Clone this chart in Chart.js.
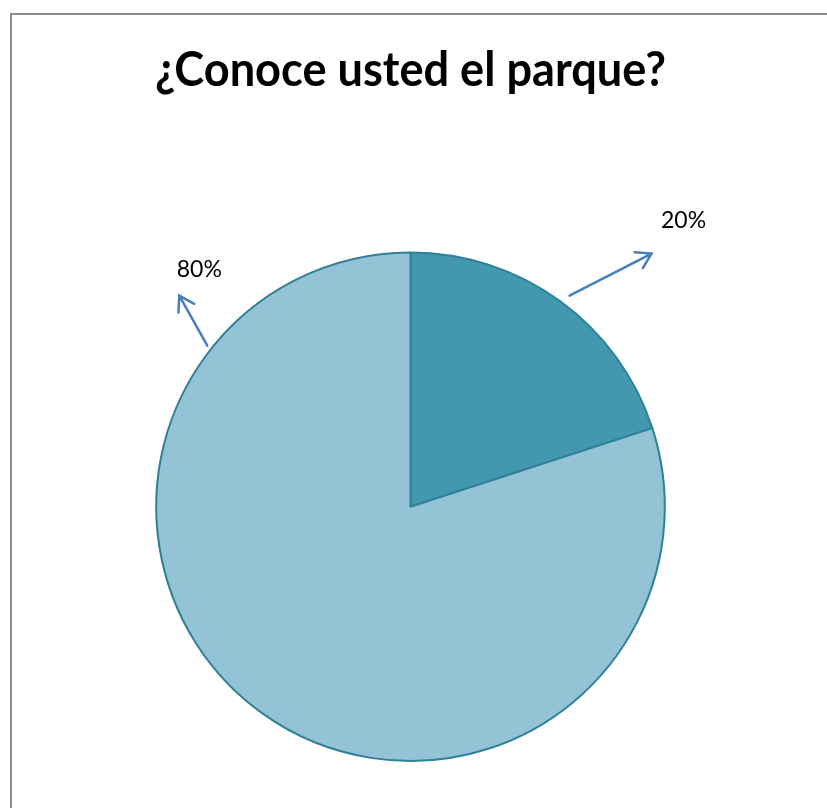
<!DOCTYPE html>
<html>
<head>
<meta charset="utf-8">
<script src="https://cdn.jsdelivr.net/npm/chart.js@4/dist/chart.umd.min.js"></script>
<style>
  html, body { margin: 0; padding: 0; background: #ffffff; }
  #wrap { position: relative; width: 827px; height: 808px; overflow: hidden; }
  #frame { position: absolute; left: 10px; top: 13px; width: 900px; height: 900px;
           border-left: 2px solid #8c8c8c; border-top: 2px solid #8c8c8c; box-sizing: border-box; }
  canvas { position: absolute; left: 0; top: 0; }
</style>
</head>
<body>
<div id="wrap">
  <div id="frame"></div>
  <canvas id="c" width="827" height="808"></canvas>
</div>
<script>
const titleText = '¿Conoce usted el parque?';
const categories = ['Sí', 'No'];
const values = [20, 80];
const sliceColors = ['#4398B0', '#93C3D5'];

const labelArrows = {
  id: 'labelArrows',
  afterDatasetsDraw(chart, args, opts) {
    const ctx = chart.ctx;
    const meta = chart.getDatasetMeta(0);
    const data = chart.data.datasets[0].data;
    const total = data.reduce((a, b) => a + b, 0);
    meta.data.forEach((arc, i) => {
      const p = opts.placements[i];
      const cx = arc.x, cy = arc.y, r = arc.outerRadius;
      const a = p.angle * Math.PI / 180;
      const sx = cx + (r + p.gap) * Math.cos(a);
      const sy = cy + (r + p.gap) * Math.sin(a);
      const ex = sx + p.dx, ey = sy + p.dy;
      ctx.save();
      ctx.strokeStyle = opts.arrowColor;
      ctx.lineWidth = 2.5;
      ctx.lineCap = 'round';
      ctx.beginPath();
      ctx.moveTo(sx, sy);
      ctx.lineTo(ex, ey);
      const ang = Math.atan2(ey - sy, ex - sx);
      const hl = 17, ha = 32 * Math.PI / 180;
      ctx.moveTo(ex - hl * Math.cos(ang - ha), ey - hl * Math.sin(ang - ha));
      ctx.lineTo(ex, ey);
      ctx.lineTo(ex - hl * Math.cos(ang + ha), ey - hl * Math.sin(ang + ha));
      ctx.stroke();
      ctx.fillStyle = '#000000';
      ctx.font = '23px Lato, "Open Sans", sans-serif';
      ctx.textAlign = 'center';
      ctx.textBaseline = 'middle';
      const pct = Math.round(data[i] / total * 100) + '%';
      ctx.fillText(pct, ex + p.tx, ey + p.ty);
      ctx.restore();
    });
  }
};

new Chart(document.getElementById('c'), {
  type: 'pie',
  data: {
    labels: categories,
    datasets: [{
      data: values,
      backgroundColor: sliceColors,
      borderColor: '#2F8199',
      borderWidth: 2
    }]
  },
  options: {
    responsive: false,
    animation: false,
    layout: { padding: { left: 155, right: 161, bottom: 46, top: 0 } },
    plugins: {
      legend: { display: false },
      tooltip: { enabled: false },
      title: {
        display: true,
        text: titleText,
        color: '#000000',
        font: { family: 'Lato, "Open Sans", sans-serif', size: 47, weight: 'bold' },
        padding: { top: 43, bottom: 152 }
      },
      labelArrows: {
        arrowColor: '#4A7EBB',
        placements: [
          { angle: -53, gap: 10, dx: 82, dy: -42, tx: 32, ty: -33 },
          { angle: -141.6, gap: 5, dx: -28, dy: -50, tx: 20, ty: -26 }
        ]
      }
    }
  },
  plugins: [labelArrows]
});
</script>
</body>
</html>
